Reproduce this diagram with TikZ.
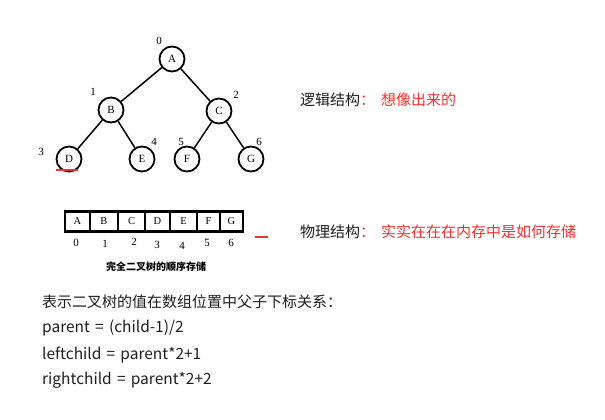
\documentclass[tikz,border=0pt]{standalone}
\usepackage{fontspec}
\setmainfont{Liberation Serif}
\newfontfamily\cjk{Noto Sans CJK SC}
\newfontfamily\cjklatin[WordSpace=1.5]{Noto Sans CJK SC}
\definecolor{notered}{RGB}{240,50,50}
\definecolor{notetext}{RGB}{30,30,30}

\begin{document}
\begin{tikzpicture}[x=1pt,y=-1pt,
	vertex/.style={circle,draw,line width=1.8pt,minimum size=25pt,inner sep=0pt,font=\fontsize{11}{11}\selectfont},
	idx/.style={inner sep=0pt,font=\fontsize{11}{11}\selectfont},
	cell/.style={draw,line width=1.4pt,minimum height=21pt,inner sep=0pt,font=\fontsize{10.5}{10.5}\selectfont},
	note/.style={anchor=west,inner sep=0pt,text=notetext,font=\cjk\fontsize{15}{15}\selectfont}]
	\useasboundingbox (0,0) rectangle (605,420);
	% tree
	\node[vertex] (A) at (172,59) {A};
	\node[vertex] (B) at (111,110) {B};
	\node[vertex] (C) at (219,111) {C};
	\node[vertex] (D) at (69,159) {D};
	\node[vertex] (E) at (142,159) {E};
	\node[vertex] (F) at (187,159) {F};
	\node[vertex] (G) at (251,159) {G};
		\draw[line width=1.5pt] (A)--(B) (A)--(C);
		\draw[line width=1.5pt] (B)--(D) (B)--(E);
		\draw[line width=1.5pt] (C)--(F) (C)--(G);
	\node[idx] (n0) at (159,41) {0};
	\node[idx] (n1) at (93,92) {1};
	\node[idx] (n2) at (236,95) {2};
	\node[idx] (n3) at (41,152) {3};
	\node[idx] (n4) at (154,142) {4};
	\node[idx] (n5) at (181,142) {5};
	\node[idx] (n6) at (259,142) {6};
	\draw[notered,line width=1.2pt] (56,170)--(78,170);
	%
	% array
	\node[cell,minimum width=25pt] (cA) at (77.5,221.5) {A};
	\node[cell,minimum width=28pt] (cB) at (104,221.5) {B};
	\node[cell,minimum width=27pt] (cC) at (131.5,221.5) {C};
	\node[cell,minimum width=25pt] (cD) at (157.5,221.5) {D};
	\node[cell,minimum width=27pt] (cE) at (183.5,221.5) {E};
	\node[cell,minimum width=23pt] (cF) at (208.5,221.5) {F};
	\node[cell,minimum width=23pt] (cG) at (231.5,221.5) {G};
		\draw[line width=0.7pt] ([yshift=-2.5pt]cA.north west)--([yshift=-2.5pt]cG.north east);
		\draw[line width=0.7pt] ([yshift=2.5pt]cA.south west)--([yshift=2.5pt]cG.south east);
	\node[idx] (i0) at (76,243) {0};
	\node[idx] (i1) at (105,244) {1};
	\node[idx] (i2) at (134,242) {2};
	\node[idx] (i3) at (157,245) {3};
	\node[idx] (i4) at (182,246) {4};
	\node[idx] (i5) at (207,243) {5};
	\node[idx] (i6) at (231,243) {6};
	\node[inner sep=0pt,font=\cjk\bfseries\fontsize{10}{10}\selectfont] (caption) at (156,267) {完全二叉树的顺序存储};
	\draw[notered,line width=1.3pt] (255,237)--(268,237);
	%
	% notes
	\node[note] (logic) at (300,100) {逻辑结构\textcolor{notered}{：\hspace{6pt}想像出来的}};
	\node[note] (phys) at (300,232) {物理结构\textcolor{notered}{：\hspace{6pt}实实在在在内存中是如何存储}};
	\node[note] (rel) at (42,302) {表示二叉树的值在数组位置中父子下标关系：};
	\node[note,font=\cjklatin\fontsize{15.5}{15.5}\selectfont] (par) at (42,328) {parent = (child-1)/2};
	\node[note,font=\cjklatin\fontsize{15.5}{15.5}\selectfont] (lch) at (42,355) {leftchild = parent*2+1};
	\node[note,font=\cjklatin\fontsize{15.5}{15.5}\selectfont] (rch) at (42,380) {rightchild = parent*2+2};
\end{tikzpicture}
\end{document}
